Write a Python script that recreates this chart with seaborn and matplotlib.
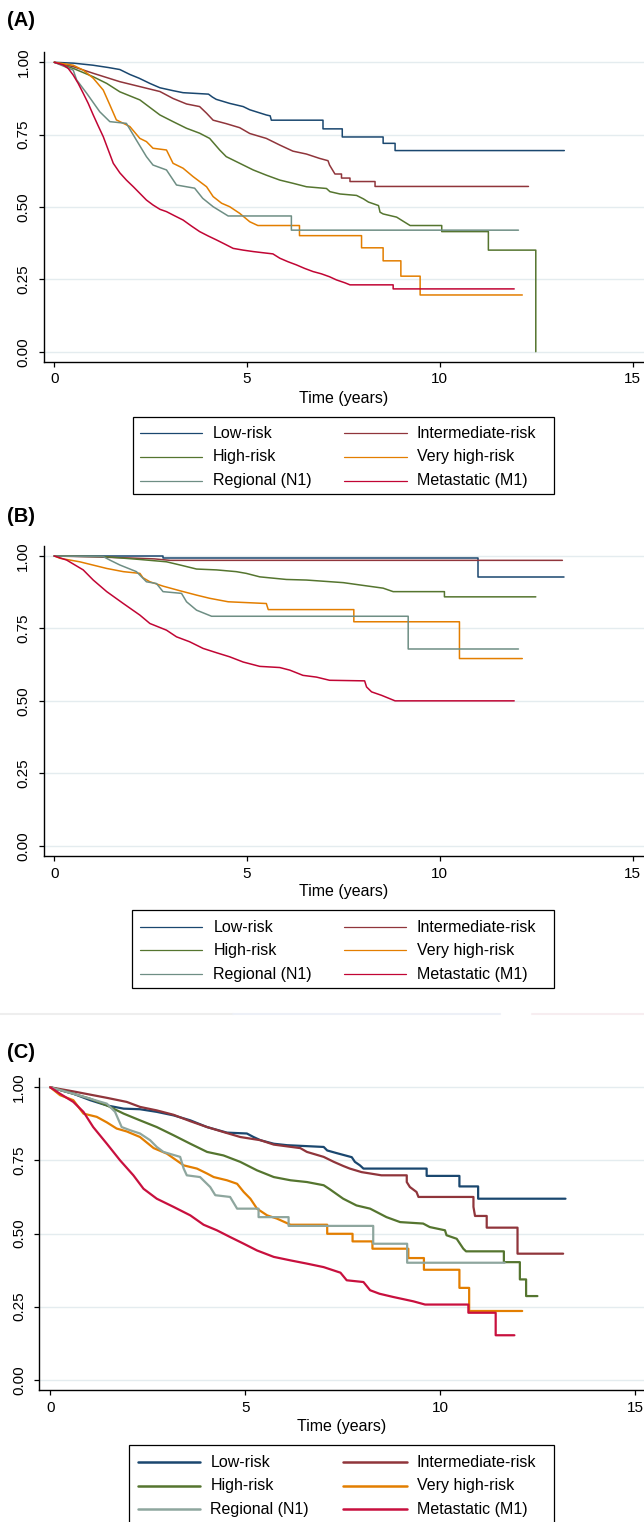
import matplotlib
matplotlib.use("Agg")
import matplotlib.pyplot as plt
from matplotlib.lines import Line2D
from matplotlib.patches import Rectangle
import pandas as pd
import seaborn as sns

# ---------------- data ----------------
# Each curve is read off the picture as (time, survival) vertices; a repeated
# time marks a vertical drop of the Kaplan-Meier step function.
groups = ["Low-risk", "Intermediate-risk", "High-risk",
          "Very high-risk", "Regional (N1)", "Metastatic (M1)"]
x_ticks = [0, 5, 10, 15]
y_ticks = [0.0, 0.25, 0.5, 0.75, 1.0]
y_tick_labels = ["0.00", "0.25", "0.50", "0.75", "1.00"]
x_label = "Time (years)"
panel_labels = ["(A)", "(B)", "(C)"]

# Panel A
A_low_t = [0, 0.5, 1.0, 1.4, 1.7, 1.96, 2.2, 2.48, 2.74, 3.08, 3.34, 4.0, 4.1, 4.2, 4.55, 4.9, 5.07, 5.5, 5.6, 5.63, 6.97, 6.97, 7.47, 7.47, 8.53, 8.53, 8.84, 8.84, 13.23]
A_low_s = [1.0, 0.997, 0.99, 0.982, 0.975, 0.958, 0.945, 0.927, 0.912, 0.902, 0.895, 0.89, 0.88, 0.872, 0.858, 0.847, 0.836, 0.818, 0.815, 0.80, 0.80, 0.77, 0.77, 0.742, 0.742, 0.72, 0.72, 0.695, 0.695]
A_int_t = [0, 0.49, 1.01, 1.7, 2.22, 2.74, 3.08, 3.43, 3.77, 3.95, 4.12, 4.46, 4.81, 5.07, 5.5, 5.85, 6.19, 6.54, 6.88, 7.1, 7.14, 7.28, 7.45, 7.45, 7.67, 7.67, 8.32, 8.32, 12.3]
A_int_s = [1.0, 0.985, 0.962, 0.933, 0.916, 0.899, 0.875, 0.856, 0.847, 0.824, 0.80, 0.788, 0.774, 0.754, 0.737, 0.714, 0.693, 0.683, 0.668, 0.66, 0.645, 0.614, 0.614, 0.60, 0.60, 0.588, 0.588, 0.571, 0.571]
A_high_t = [0, 0.49, 1.01, 1.36, 1.7, 2.22, 2.74, 3.08, 3.43, 3.77, 4.03, 4.29, 4.46, 4.81, 5.16, 5.5, 5.85, 6.19, 6.54, 7.06, 7.15, 7.41, 7.84, 8.02, 8.15, 8.41, 8.45, 8.53, 8.88, 9.06, 9.23, 10.05, 10.05, 11.26, 11.26, 12.49, 12.49]
A_high_s = [1.0, 0.979, 0.95, 0.927, 0.898, 0.87, 0.818, 0.795, 0.772, 0.755, 0.737, 0.697, 0.674, 0.651, 0.628, 0.61, 0.593, 0.582, 0.57, 0.564, 0.553, 0.545, 0.54, 0.528, 0.517, 0.505, 0.482, 0.476, 0.465, 0.45, 0.436, 0.436, 0.415, 0.415, 0.351, 0.351, 0.0]
A_vhigh_t = [0, 0.49, 0.75, 1.01, 1.27, 1.44, 1.61, 1.96, 2.22, 2.39, 2.56, 2.91, 3.08, 3.34, 3.6, 3.95, 4.12, 4.34, 4.55, 4.81, 5.07, 5.28, 6.36, 6.36, 7.97, 7.97, 8.53, 8.53, 8.99, 8.99, 9.49, 9.49, 12.14]
A_vhigh_s = [1.0, 0.99, 0.973, 0.945, 0.904, 0.853, 0.801, 0.778, 0.737, 0.726, 0.703, 0.697, 0.651, 0.634, 0.605, 0.57, 0.536, 0.513, 0.501, 0.478, 0.449, 0.436, 0.436, 0.401, 0.401, 0.359, 0.359, 0.314, 0.314, 0.261, 0.261, 0.196, 0.196]
A_reg_t = [0, 0.49, 0.58, 0.84, 1.18, 1.44, 1.87, 2.13, 2.39, 2.56, 2.91, 3.17, 3.64, 3.85, 4.12, 4.51, 6.15, 6.15, 12.04]
A_reg_s = [1.0, 0.973, 0.939, 0.893, 0.829, 0.795, 0.789, 0.731, 0.674, 0.645, 0.628, 0.576, 0.565, 0.53, 0.501, 0.469, 0.469, 0.42, 0.42]
A_met_t = [0, 0.23, 0.36, 0.49, 0.62, 0.75, 0.88, 1.01, 1.14, 1.27, 1.40, 1.53, 1.70, 1.87, 2.05, 2.22, 2.39, 2.56, 2.74, 2.91, 3.13, 3.34, 3.56, 3.77, 3.99, 4.21, 4.42, 4.64, 4.90, 5.16, 5.41, 5.67, 5.85, 6.06, 6.28, 6.49, 6.71, 6.93, 7.14, 7.32, 7.54, 7.67, 8.79, 8.79, 11.93]
A_met_s = [1.0, 0.991, 0.979, 0.956, 0.927, 0.893, 0.858, 0.818, 0.780, 0.743, 0.697, 0.651, 0.618, 0.593, 0.570, 0.547, 0.524, 0.507, 0.492, 0.484, 0.469, 0.455, 0.434, 0.415, 0.400, 0.386, 0.372, 0.357, 0.351, 0.346, 0.342, 0.338, 0.323, 0.311, 0.300, 0.288, 0.277, 0.269, 0.259, 0.248, 0.238, 0.231, 0.231, 0.217, 0.217]

# Panel B
B_low_t = [0, 2.82, 2.82, 10.98, 10.98, 13.23]
B_low_s = [1.0, 1.0, 0.992, 0.992, 0.926, 0.926]
B_int_t = [0, 1.0, 2.0, 2.6, 3.0, 13.18]
B_int_s = [1.0, 0.997, 0.993, 0.99, 0.985, 0.985]
B_high_t = [0, 1.27, 2.22, 2.91, 3.26, 3.69, 4.21, 4.72, 4.98, 5.33, 6.02, 6.54, 6.97, 7.5, 7.93, 8.53, 8.79, 10.12, 10.12, 12.49]
B_high_s = [1.0, 0.998, 0.988, 0.98, 0.969, 0.955, 0.952, 0.946, 0.94, 0.928, 0.919, 0.917, 0.913, 0.908, 0.90, 0.889, 0.877, 0.877, 0.859, 0.859]
B_vhigh_t = [0, 0.15, 0.66, 1.36, 1.79, 2.22, 2.3, 2.48, 2.82, 3.26, 3.69, 4.03, 4.51, 5.5, 5.55, 7.77, 7.77, 10.51, 10.51, 12.14]
B_vhigh_s = [1.0, 0.992, 0.98, 0.957, 0.946, 0.94, 0.925, 0.911, 0.896, 0.88, 0.865, 0.854, 0.842, 0.836, 0.815, 0.815, 0.773, 0.773, 0.646, 0.646]
B_reg_t = [0, 1.27, 1.44, 1.7, 2.13, 2.39, 2.65, 2.82, 3.3, 3.43, 3.69, 4.08, 9.18, 9.18, 12.04]
B_reg_s = [1.0, 0.998, 0.986, 0.969, 0.946, 0.911, 0.905, 0.877, 0.871, 0.842, 0.813, 0.792, 0.792, 0.679, 0.679]
B_met_t = [0, 0.32, 0.75, 1.01, 1.36, 1.79, 2.22, 2.48, 2.91, 3.17, 3.51, 3.86, 4.21, 4.55, 4.9, 5.33, 5.85, 6.11, 6.45, 6.8, 7.14, 8.05, 8.1, 8.23, 8.49, 8.84, 11.93]
B_met_s = [1.0, 0.986, 0.952, 0.917, 0.877, 0.836, 0.796, 0.767, 0.744, 0.721, 0.704, 0.681, 0.666, 0.652, 0.634, 0.619, 0.615, 0.606, 0.588, 0.582, 0.571, 0.569, 0.548, 0.531, 0.519, 0.50, 0.50]

# Panel C
C_low_t = [0, 0.59, 1.02, 1.45, 1.88, 2.3, 2.73, 3.16, 3.59, 4.02, 4.53, 5.04, 5.21, 5.39, 5.73, 6.07, 7.01, 7.1, 7.34, 7.73, 7.81, 7.94, 8.03, 9.65, 9.65, 10.49, 10.49, 10.97, 10.97, 13.21]
C_low_s = [1.0, 0.978, 0.956, 0.938, 0.927, 0.925, 0.916, 0.904, 0.887, 0.864, 0.845, 0.842, 0.83, 0.819, 0.807, 0.802, 0.796, 0.784, 0.775, 0.761, 0.745, 0.733, 0.722, 0.722, 0.697, 0.697, 0.661, 0.661, 0.619, 0.619]
C_int_t = [0, 0.59, 1.02, 1.45, 1.96, 2.3, 2.73, 3.16, 3.59, 4.02, 4.44, 4.87, 5.39, 5.73, 6.41, 6.58, 7.01, 7.27, 7.51, 7.68, 7.98, 8.49, 9.14, 9.14, 9.22, 9.39, 9.44, 10.85, 10.85, 10.89, 11.19, 11.19, 11.98, 11.98, 13.15]
C_int_s = [1.0, 0.986, 0.975, 0.964, 0.95, 0.933, 0.921, 0.906, 0.884, 0.864, 0.847, 0.83, 0.819, 0.804, 0.792, 0.779, 0.762, 0.745, 0.731, 0.722, 0.71, 0.699, 0.699, 0.676, 0.659, 0.642, 0.625, 0.625, 0.591, 0.56, 0.56, 0.52, 0.52, 0.431, 0.431]
C_high_t = [0, 0.59, 1.02, 1.45, 1.88, 2.3, 2.73, 3.16, 3.59, 4.02, 4.44, 4.87, 5.3, 5.73, 6.16, 6.58, 7.01, 7.17, 7.51, 7.85, 8.2, 8.62, 8.97, 9.56, 9.73, 10.12, 10.16, 10.42, 10.59, 10.66, 11.63, 11.63, 12.04, 12.04, 12.2, 12.2, 12.49]
C_high_s = [1.0, 0.978, 0.961, 0.938, 0.91, 0.887, 0.864, 0.836, 0.807, 0.779, 0.767, 0.745, 0.716, 0.693, 0.682, 0.676, 0.665, 0.651, 0.619, 0.596, 0.585, 0.556, 0.539, 0.534, 0.522, 0.511, 0.494, 0.482, 0.448, 0.439, 0.439, 0.402, 0.402, 0.343, 0.343, 0.286, 0.286]
C_vhigh_t = [0, 0.25, 0.59, 0.85, 1.19, 1.45, 1.7, 1.96, 2.3, 2.65, 2.99, 3.42, 3.76, 4.02, 4.19, 4.53, 4.79, 4.96, 5.13, 5.3, 5.56, 5.81, 6.16, 7.1, 7.1, 7.75, 7.75, 8.26, 8.26, 9.18, 9.18, 9.58, 9.58, 10.49, 10.49, 10.74, 10.74, 12.1]
C_vhigh_s = [1.0, 0.973, 0.956, 0.91, 0.899, 0.88, 0.859, 0.849, 0.83, 0.792, 0.773, 0.733, 0.722, 0.705, 0.693, 0.682, 0.67, 0.642, 0.619, 0.585, 0.562, 0.551, 0.53, 0.53, 0.499, 0.499, 0.473, 0.473, 0.448, 0.448, 0.416, 0.416, 0.376, 0.376, 0.314, 0.314, 0.235, 0.235]
C_reg_t = [0, 0.59, 1.02, 1.45, 1.66, 1.83, 2.05, 2.3, 2.56, 2.73, 2.9, 3.33, 3.42, 3.5, 3.84, 4.1, 4.23, 4.61, 4.79, 5.34, 5.34, 6.11, 6.11, 8.28, 8.28, 9.15, 9.15, 11.65]
C_reg_s = [1.0, 0.978, 0.961, 0.944, 0.916, 0.864, 0.853, 0.842, 0.819, 0.796, 0.779, 0.762, 0.722, 0.699, 0.693, 0.659, 0.631, 0.625, 0.585, 0.585, 0.556, 0.556, 0.526, 0.526, 0.465, 0.465, 0.40, 0.40]
C_met_t = [0, 0.25, 0.59, 0.85, 1.1, 1.45, 1.79, 2.13, 2.39, 2.73, 3.16, 3.59, 3.93, 4.27, 4.61, 4.96, 5.3, 5.73, 6.16, 6.58, 7.01, 7.44, 7.6, 8.03, 8.2, 8.44, 8.79, 9.31, 9.61, 10.72, 10.72, 11.42, 11.42, 11.9]
C_met_s = [1.0, 0.978, 0.95, 0.916, 0.864, 0.807, 0.75, 0.699, 0.653, 0.619, 0.591, 0.562, 0.53, 0.511, 0.488, 0.465, 0.442, 0.42, 0.408, 0.397, 0.385, 0.366, 0.34, 0.334, 0.306, 0.294, 0.283, 0.268, 0.257, 0.257, 0.229, 0.229, 0.152, 0.152]

# ---------------- style ----------------
colors_ab = ["#1a476f", "#90353b", "#55752f", "#e37e00", "#6e8e84", "#c10534"]
colors_c = ["#1a476f", "#90353b", "#55752f", "#e37e00", "#8ea69e", "#c8103e"]

sns.set_style("white")
plt.rcParams["font.family"] = ["Liberation Sans", "DejaVu Sans"]

W, H = 644, 1522
fig = plt.figure(figsize=(W / 100, H / 100), dpi=100)


def fx(px):
    return px / W


def fy(py):
    return 1 - py / H


def long_df(series):
    frames = []
    for name, (t, s) in zip(groups, series):
        frames.append(pd.DataFrame({"time": t, "surv": s, "group": name}))
    return pd.concat(frames, ignore_index=True)


panels = [
    dict(series=[(A_low_t, A_low_s), (A_int_t, A_int_s), (A_high_t, A_high_s),
                 (A_vhigh_t, A_vhigh_s), (A_reg_t, A_reg_s), (A_met_t, A_met_s)],
         left=44.0, top=52.3, bottom=361.7, x0=54.3, pxyr=38.55, y1=62.3, y0=351.7,
         xlab_y=398.0, plab_y=20.0, box=(133.3, 416.7, 553.6, 494.3),
         rows=[433.3, 456.7, 480.7], handles=[(140.0, 201.7), (343.5, 406.7)],
         textx=[213.0, 416.7], lw=1.1, leg_lw=0.9, colors=colors_ab),
    dict(series=[(B_low_t, B_low_s), (B_int_t, B_int_s), (B_high_t, B_high_s),
                 (B_vhigh_t, B_vhigh_s), (B_reg_t, B_reg_s), (B_met_t, B_met_s)],
         left=43.5, top=546.0, bottom=856.0, x0=54.3, pxyr=38.55, y1=556.0, y0=845.7,
         xlab_y=891.5, plab_y=516.5, box=(131.7, 909.7, 554.0, 988.3),
         rows=[927.3, 950.0, 974.3], handles=[(140.0, 201.7), (344.0, 406.0)],
         textx=[213.3, 416.7], lw=1.1, leg_lw=0.9, colors=colors_ab),
    dict(series=[(C_low_t, C_low_s), (C_int_t, C_int_s), (C_high_t, C_high_s),
                 (C_vhigh_t, C_vhigh_s), (C_reg_t, C_reg_s), (C_met_t, C_met_s)],
         left=39.4, top=1077.7, bottom=1390.0, x0=50.3, pxyr=39.0, y1=1087.3, y0=1379.7,
         xlab_y=1427.0, plab_y=1052.0, box=(129.4, 1445.0, 554.4, 1532.0),
         rows=[1462.3, 1485.7, 1509.3], handles=[(137.6, 200.0), (343.0, 406.6)],
         textx=[210.3, 416.8], lw=1.6, leg_lw=1.8, colors=colors_c),
]

FS = 11
FS_TXT = 11.5
for p, plab in zip(panels, panel_labels):
    ax = fig.add_axes([fx(p["left"]), fy(p["bottom"]),
                       (W - p["left"]) / W, (p["bottom"] - p["top"]) / H])
    df = long_df(p["series"])
    sns.lineplot(data=df, x="time", y="surv", hue="group", hue_order=groups,
                 palette=p["colors"], estimator=None, sort=False,
                 lw=p["lw"], legend=False, ax=ax)
    span = p["y0"] - p["y1"]
    ax.set_xlim((p["left"] - p["x0"]) / p["pxyr"], (W - p["x0"]) / p["pxyr"])
    ax.set_ylim((p["y0"] - p["bottom"]) / span, 1 + (p["y1"] - p["top"]) / span)
    ax.set_xticks(x_ticks)
    ax.set_xticklabels([str(v) for v in x_ticks])
    ax.set_yticks(y_ticks)
    ax.set_yticklabels(y_tick_labels)
    ax.grid(False)
    ax.yaxis.grid(True, color="#e4ecef", lw=1.0)
    ax.set_axisbelow(True)
    for side in ["top", "right"]:
        ax.spines[side].set_visible(False)
    for side in ["left", "bottom"]:
        ax.spines[side].set_color("black")
        ax.spines[side].set_linewidth(1.0)
    ax.tick_params(axis="both", which="major", direction="out", length=3.6,
                   width=0.9, color="black", labelsize=FS, labelcolor="black",
                   left=True, bottom=True)
    ax.tick_params(axis="x", pad=4)
    ax.tick_params(axis="y", pad=6)
    for lab in ax.get_yticklabels():
        lab.set_rotation(90)
        lab.set_va("center")
    ax.set_ylabel("")
    ax.set_xlabel(x_label, fontsize=FS_TXT, color="black")
    ax.xaxis.label.set_va("center")
    ax.xaxis.set_label_coords(0.5, -(p["xlab_y"] - p["bottom"]) / (p["bottom"] - p["top"]))

    # panel label
    fig.text(fx(7), fy(p["plab_y"]), plab, fontsize=14.5, fontweight="bold",
             ha="left", va="center", color="black")

    # legend box
    x_l, y_t, x_r, y_b = p["box"]
    fig.add_artist(Rectangle((fx(x_l), fy(y_b)), (x_r - x_l) / W, (y_b - y_t) / H,
                             transform=fig.transFigure, fill=False,
                             edgecolor="black", lw=0.9))
    for i, name in enumerate(groups):
        col = i % 2
        row = i // 2
        yy = p["rows"][row]
        h0, h1 = p["handles"][col]
        fig.add_artist(Line2D([fx(h0), fx(h1)], [fy(yy), fy(yy)],
                              transform=fig.transFigure, color=p["colors"][i],
                              lw=p["leg_lw"]))
        fig.text(fx(p["textx"][col]), fy(yy), name, fontsize=FS_TXT,
                 ha="left", va="center", color="black")

# faint separator between panels B and C
for (a, b, c) in [(0, 233, "#eeeeee"), (233, 500, "#edf0f7"), (532, 644, "#f7edf0")]:
    fig.add_artist(Line2D([fx(a), fx(b)], [fy(1014), fy(1014)],
                          transform=fig.transFigure, color=c, lw=1.5))

fig.savefig("out.png", dpi=100)
